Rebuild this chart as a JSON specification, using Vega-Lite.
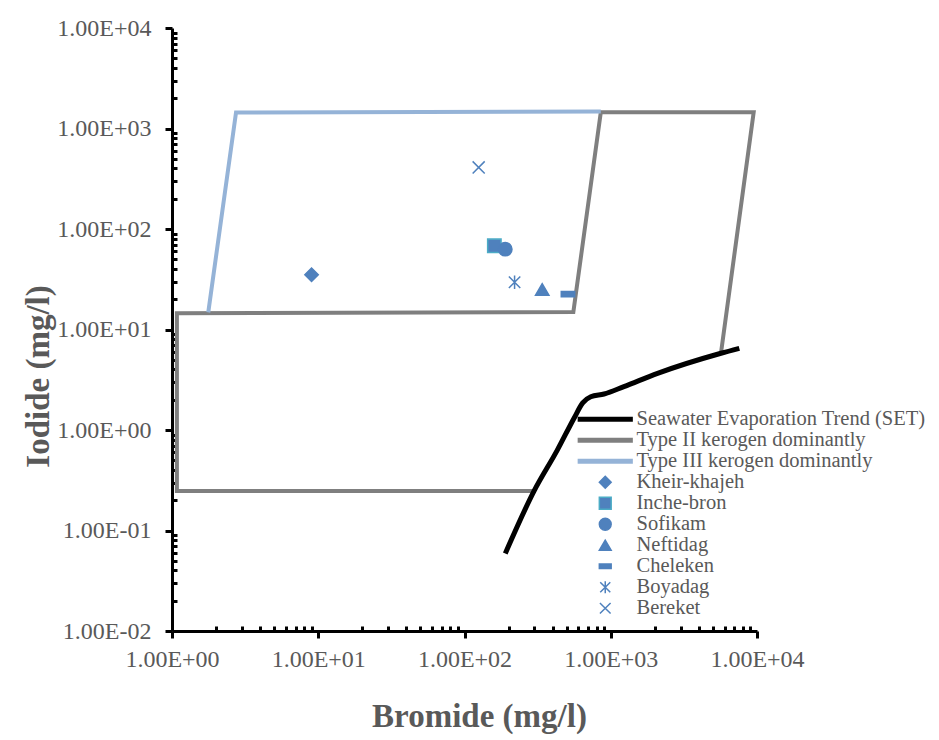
{
  "$schema": "https://vega.github.io/schema/vega-lite/v6.json",
  "width": 585,
  "height": 603,
  "autosize": {"type": "none"},
  "padding": {"left": 172, "top": 28, "right": 182, "bottom": 109},
  "background": "white",
  "config": {"view": {"stroke": null}, "font": "Liberation Serif"},
  "datasets": {
    "lines": [
      {"series": "Type II kerogen dominantly", "ord": 1, "bromide": 297, "iodide": 0.247},
      {"series": "Type II kerogen dominantly", "ord": 2, "bromide": 1.08, "iodide": 0.247},
      {"series": "Type II kerogen dominantly", "ord": 3, "bromide": 1.08, "iodide": 14.5},
      {"series": "Type II kerogen dominantly", "ord": 4, "bromide": 555, "iodide": 14.9},
      {"series": "Type II kerogen dominantly", "ord": 5, "bromide": 855, "iodide": 1450},
      {"series": "Type II kerogen dominantly", "ord": 6, "bromide": 9490, "iodide": 1450},
      {"series": "Type II kerogen dominantly", "ord": 7, "bromide": 5670, "iodide": 5.8},
      {"series": "Type III kerogen dominantly", "ord": 1, "bromide": 1.77, "iodide": 14.8},
      {"series": "Type III kerogen dominantly", "ord": 2, "bromide": 2.74, "iodide": 1440},
      {"series": "Type III kerogen dominantly", "ord": 3, "bromide": 855, "iodide": 1480},
      {"series": "Seawater Evaporation Trend (SET)", "ord": 1, "bromide": 190, "iodide": 0.059},
      {"series": "Seawater Evaporation Trend (SET)", "ord": 2, "bromide": 298, "iodide": 0.245},
      {"series": "Seawater Evaporation Trend (SET)", "ord": 3, "bromide": 431, "iodide": 0.63},
      {"series": "Seawater Evaporation Trend (SET)", "ord": 4, "bromide": 561, "iodide": 1.31},
      {"series": "Seawater Evaporation Trend (SET)", "ord": 5, "bromide": 643, "iodide": 1.86},
      {"series": "Seawater Evaporation Trend (SET)", "ord": 6, "bromide": 730, "iodide": 2.14},
      {"series": "Seawater Evaporation Trend (SET)", "ord": 7, "bromide": 900, "iodide": 2.28},
      {"series": "Seawater Evaporation Trend (SET)", "ord": 8, "bromide": 1230, "iodide": 2.7},
      {"series": "Seawater Evaporation Trend (SET)", "ord": 9, "bromide": 2090, "iodide": 3.66},
      {"series": "Seawater Evaporation Trend (SET)", "ord": 10, "bromide": 5670, "iodide": 5.8},
      {"series": "Seawater Evaporation Trend (SET)", "ord": 11, "bromide": 7570, "iodide": 6.5}
    ],
    "samples": [
      {"site": "Kheir-khajeh", "bromide": 9, "iodide": 35},
      {"site": "Inche-bron", "bromide": 160, "iodide": 68},
      {"site": "Sofikam", "bromide": 190, "iodide": 63},
      {"site": "Neftidag", "bromide": 340, "iodide": 25},
      {"site": "Cheleken", "bromide": 510, "iodide": 22.5},
      {"site": "Boyadag", "bromide": 220, "iodide": 29.5},
      {"site": "Bereket", "bromide": 125, "iodide": 410}
    ]
  },
  "encoding": {
    "x": {
      "field": "bromide", "type": "quantitative",
      "scale": {"type": "log", "domain": [1, 10000], "nice": false},
      "axis": {
        "title": "Bromide (mg/l)",
        "values": [1,2,3,4,5,6,7,8,9,10,20,30,40,50,60,70,80,90,100,200,300,400,500,600,700,800,900,1000,2000,3000,4000,5000,6000,7000,8000,9000,10000],
        "labelExpr": "abs(log(datum.value)/LN10 - round(log(datum.value)/LN10)) < 0.001 ? '1.00E' + (datum.value >= 0.999 ? '+' : '-') + '0' + abs(round(log(datum.value)/LN10)) : ''",
        "labelFont": "Liberation Serif", "labelFontSize": 24, "labelColor": "#595959", "labelPadding": 9,
        "labelOverlap": false, "labelFlush": false, "labelBound": false,
        "tickSize": {"condition": {"test": "abs(log(datum.value)/LN10 - round(log(datum.value)/LN10)) < 0.001", "value": 7}, "value": -5},
        "tickColor": "black", "tickWidth": 3,
        "domainColor": "black", "domainWidth": 3,
        "grid": false,
        "titleFont": "Liberation Serif", "titleFontSize": 33, "titleFontWeight": "bold", "titleColor": "#595959",
        "titleX": 307, "titleY": 95, "titleBaseline": "alphabetic", "titleAlign": "center"
      }
    },
    "y": {
      "field": "iodide", "type": "quantitative",
      "scale": {"type": "log", "domain": [0.01, 10000], "nice": false},
      "axis": {
        "title": "Iodide (mg/l)",
        "values": [0.01,0.02,0.03,0.04,0.05,0.06,0.07,0.08,0.09,0.1,0.2,0.3,0.4,0.5,0.6,0.7,0.8,0.9,1,2,3,4,5,6,7,8,9,10,20,30,40,50,60,70,80,90,100,200,300,400,500,600,700,800,900,1000,2000,3000,4000,5000,6000,7000,8000,9000,10000],
        "labelExpr": "abs(log(datum.value)/LN10 - round(log(datum.value)/LN10)) < 0.001 ? '1.00E' + (datum.value >= 0.999 ? '+' : '-') + '0' + abs(round(log(datum.value)/LN10)) : ''",
        "labelFont": "Liberation Serif", "labelFontSize": 24, "labelColor": "#595959", "labelPadding": 14,
        "labelOverlap": false, "labelFlush": false, "labelBound": false,
        "tickSize": {"condition": {"test": "abs(log(datum.value)/LN10 - round(log(datum.value)/LN10)) < 0.001", "value": 7}, "value": -5},
        "tickColor": "black", "tickWidth": 3,
        "domainColor": "black", "domainWidth": 3,
        "grid": false,
        "titleFont": "Liberation Serif", "titleFontSize": 33, "titleFontWeight": "bold", "titleColor": "#595959",
        "titleX": -134, "titleY": 348, "titleBaseline": "middle", "titleAlign": "center", "titleAngle": -90
      }
    }
  },
  "layer": [
    {
      "data": {"name": "lines"},
      "transform": [{"filter": "datum.series == 'Type II kerogen dominantly'"}],
      "mark": {"type": "line", "strokeWidth": 4, "interpolate": "linear"},
      "encoding": {
        "color": {
          "field": "series", "type": "nominal",
          "scale": {"domain": ["Seawater Evaporation Trend (SET)", "Type II kerogen dominantly", "Type III kerogen dominantly"], "range": ["#000000", "#7f7f7f", "#95b3d7"]},
          "legend": {"title": null, "orient": "none", "legendX": 423, "legendY": 381, "symbolType": "M-4.6,0H4.6", "symbolSize": 144, "symbolStrokeWidth": 5, "labelFont": "Liberation Serif", "labelFontSize": 20.5, "labelColor": "#595959", "labelOffset": 21, "rowPadding": 0, "labelLimit": 500}
        },
        "order": {"field": "ord", "type": "quantitative"}
      }
    },
    {
      "data": {"name": "lines"},
      "transform": [{"filter": "datum.series == 'Type III kerogen dominantly'"}],
      "mark": {"type": "line", "strokeWidth": 4, "interpolate": "linear"},
      "encoding": {
        "color": {"field": "series", "type": "nominal"},
        "order": {"field": "ord", "type": "quantitative"}
      }
    },
    {
      "data": {"name": "lines"},
      "transform": [{"filter": "datum.series == 'Seawater Evaporation Trend (SET)'"}],
      "mark": {"type": "line", "strokeWidth": 5, "interpolate": "monotone"},
      "encoding": {
        "color": {"field": "series", "type": "nominal"},
        "order": {"field": "ord", "type": "quantitative"}
      }
    },
    {
      "data": {"name": "samples"},
      "mark": {"type": "point", "filled": true, "fill": "#4f81bd", "strokeWidth": 1.5, "size": 180, "opacity": 1},
      "encoding": {
        "shape": {
          "field": "site", "type": "nominal",
          "scale": {"domain": ["Kheir-khajeh", "Inche-bron", "Sofikam", "Neftidag", "Cheleken", "Boyadag", "Bereket"],
                    "range": ["diamond", "square", "circle", "triangle-up", "M-1,-0.38H1V0.38H-1Z", "M-0.85,-0.85L0.85,0.85M-0.85,0.85L0.85,-0.85M0,-1V1", "M-0.9,-0.9L0.9,0.9M-0.9,0.9L0.9,-0.9"]},
          "legend": {"title": null, "orient": "none", "legendX": 423, "legendY": 444, "symbolSize": 140, "symbolStrokeWidth": 1.5, "symbolFillColor": "#4f81bd", "labelFont": "Liberation Serif", "labelFontSize": 20.5, "labelColor": "#595959", "labelOffset": 21, "rowPadding": 0, "labelLimit": 500}
        },
        "stroke": {
          "field": "site", "type": "nominal",
          "scale": {"domain": ["Kheir-khajeh", "Inche-bron", "Sofikam", "Neftidag", "Cheleken", "Boyadag", "Bereket"],
                    "range": ["#4f81bd", "#4bacc6", "#4f81bd", "#4f81bd", "#4f81bd", "#4f81bd", "#4f81bd"]},
          "legend": {"title": null, "orient": "none", "legendX": 423, "legendY": 444, "symbolSize": 140, "symbolStrokeWidth": 1.5, "symbolFillColor": "#4f81bd", "labelFont": "Liberation Serif", "labelFontSize": 20.5, "labelColor": "#595959", "labelOffset": 21, "rowPadding": 0, "labelLimit": 500}
        }
      }
    }
  ]
}
